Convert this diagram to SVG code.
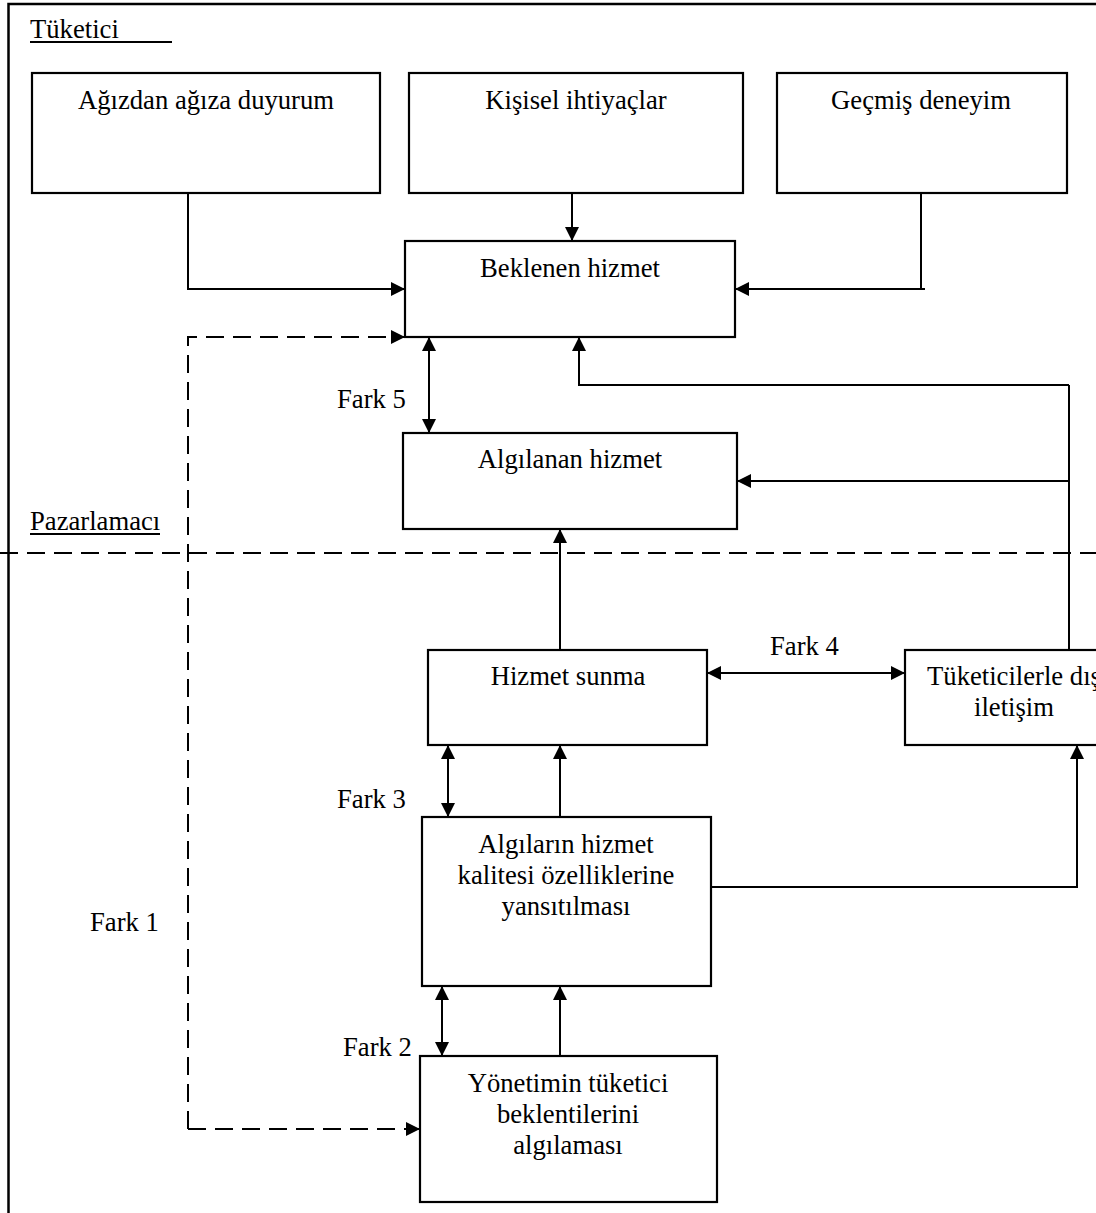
<svg xmlns="http://www.w3.org/2000/svg" width="1096" height="1213" viewBox="0 0 1096 1213">
<style>
  .box { fill: #fff; stroke: #000; stroke-width: 2.2; }
  .t { font-family: "Liberation Serif", "Times New Roman", serif; font-size: 26.67px; fill: #000; }
  .c { text-anchor: middle; }
  .ln { fill: none; stroke: #000; stroke-width: 2; }
  .dash { fill: none; stroke: #000; stroke-width: 2; stroke-dasharray: 18 9; }
  .frame { fill: none; stroke: #000; stroke-width: 2.5; }
</style>
<defs>
  <marker id="ah" markerWidth="14" markerHeight="14" refX="14" refY="7" orient="auto-start-reverse" markerUnits="userSpaceOnUse">
    <path d="M0,0 L14,7 L0,14 z" fill="#000"/>
  </marker>
</defs>
<rect width="1096" height="1213" fill="#fff"/>

<g id="frame">
  <path class="frame" d="M8.5,1213 V4 H1096"/>
  <text class="t" x="30" y="38">Tüketici</text>
  <line class="ln" x1="30" y1="42" x2="172" y2="42" stroke-width="1.6"/>
  <text class="t" x="30" y="530">Pazarlamacı</text>
  <line class="ln" x1="30" y1="534" x2="160" y2="534" stroke-width="1.6"/>
  <line class="dash" x1="0" y1="553" x2="1096" y2="553"/>
</g>

<g id="connectors">
  <path class="ln" d="M188,193 V289 H405" marker-end="url(#ah)"/>
  <path class="ln" d="M572,193 V241" marker-end="url(#ah)"/>
  <path class="ln" d="M921,193 V289"/>
  <path class="ln" d="M925,289 H735" marker-end="url(#ah)"/>
  <path class="dash" d="M188,1129 V337 H405" marker-end="url(#ah)"/>
  <path class="dash" d="M188,1129 H420" marker-end="url(#ah)"/>
  <path class="ln" d="M429,337 V433" marker-start="url(#ah)" marker-end="url(#ah)"/>
  <path class="ln" d="M1069,385 H579 V337" marker-end="url(#ah)"/>
  <path class="ln" d="M1069,649 V385"/>
  <path class="ln" d="M1069,481 H737" marker-end="url(#ah)"/>
  <path class="ln" d="M560,650 V529" marker-end="url(#ah)"/>
  <path class="ln" d="M707,673 H905" marker-start="url(#ah)" marker-end="url(#ah)"/>
  <path class="ln" d="M448,745 V817" marker-start="url(#ah)" marker-end="url(#ah)"/>
  <path class="ln" d="M560,817 V745" marker-end="url(#ah)"/>
  <path class="ln" d="M711,887 H1077 V745" marker-end="url(#ah)"/>
  <path class="ln" d="M442,986 V1056" marker-start="url(#ah)" marker-end="url(#ah)"/>
  <path class="ln" d="M560,1056 V986" marker-end="url(#ah)"/>
  <text class="t" x="337" y="408">Fark 5</text>
  <text class="t" x="770" y="655">Fark 4</text>
  <text class="t" x="337" y="808">Fark 3</text>
  <text class="t" x="343" y="1056">Fark 2</text>
  <text class="t" x="90" y="931">Fark 1</text>
</g>

<g id="n-agizdan">
  <rect class="box" x="32" y="73" width="348" height="120"/>
  <text class="t c" x="206" y="109">Ağızdan ağıza duyurum</text>
</g>
<g id="n-kisisel">
  <rect class="box" x="409" y="73" width="334" height="120"/>
  <text class="t c" x="576" y="109">Kişisel ihtiyaçlar</text>
</g>
<g id="n-gecmis">
  <rect class="box" x="777" y="73" width="290" height="120"/>
  <text class="t c" x="921" y="109">Geçmiş deneyim</text>
</g>
<g id="n-beklenen">
  <rect class="box" x="405" y="241" width="330" height="96"/>
  <text class="t c" x="570" y="277">Beklenen hizmet</text>
</g>
<g id="n-algilanan">
  <rect class="box" x="403" y="433" width="334" height="96"/>
  <text class="t c" x="570" y="468">Algılanan hizmet</text>
</g>
<g id="n-hizmet-sunma">
  <rect class="box" x="428" y="650" width="279" height="95"/>
  <text class="t c" x="568" y="685">Hizmet sunma</text>
</g>
<g id="n-iletisim">
  <rect class="box" x="905" y="650" width="218" height="95"/>
  <text class="t c" x="1014" y="685">Tüketicilerle dış</text>
  <text class="t c" x="1014" y="716">iletişim</text>
</g>
<g id="n-algilarin">
  <rect class="box" x="422" y="817" width="289" height="169"/>
  <text class="t c" x="566" y="853">Algıların hizmet</text>
  <text class="t c" x="566" y="884">kalitesi özelliklerine</text>
  <text class="t c" x="566" y="915">yansıtılması</text>
</g>
<g id="n-yonetimin">
  <rect class="box" x="420" y="1056" width="297" height="146"/>
  <text class="t c" x="568" y="1092">Yönetimin tüketici</text>
  <text class="t c" x="568" y="1123">beklentilerini</text>
  <text class="t c" x="568" y="1154">algılaması</text>
</g>
</svg>
